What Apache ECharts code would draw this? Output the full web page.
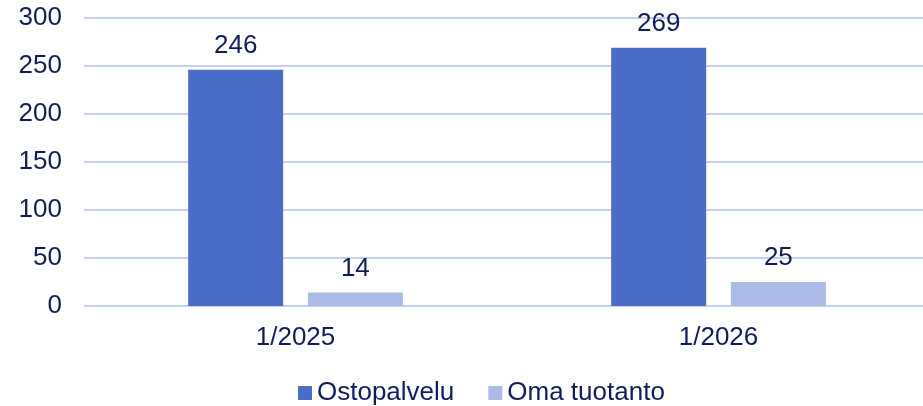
<!DOCTYPE html>
<html><head><meta charset="utf-8">
<script src="https://cdn.jsdelivr.net/npm/echarts@6/dist/echarts.min.js"></script>
<style>html,body{margin:0;padding:0;background:#fff;overflow:hidden;width:923px;height:406px}#c{width:930px;height:406px}</style>
</head><body><div id="c"></div>
<script>
const categories = ['1/2025', '1/2026'];
const seriesNames = ['Ostopalvelu', 'Oma tuotanto'];
const ostopalvelu = [246, 269];
const omaTuotanto = [14, 25];
const yTicks = [0, 50, 100, 150, 200, 250, 300];

const textColor = '#111C5C';
const font = 'Liberation Sans, Arial, sans-serif';
const fs = 26;
const chart = echarts.init(document.getElementById('c'), null, {renderer: 'canvas'});
const labelCfg = {show: true, position: 'top', distance: 11, color: textColor, fontSize: fs, fontFamily: font};
chart.setOption({
  animation: false,
  textStyle: {fontFamily: font},
  grid: {left: 84, top: 18, right: 0, height: 288, containLabel: false},
  legend: {
    left: 293, top: 375, itemWidth: 14, itemHeight: 14, itemGap: 34,
    icon: 'rect',
    textStyle: {color: textColor, fontSize: fs, fontFamily: font},
    data: seriesNames
  },
  xAxis: {
    type: 'category', data: categories,
    axisLine: {show: false}, axisTick: {show: false},
    axisLabel: {color: textColor, fontSize: fs, fontFamily: font, margin: 19}
  },
  yAxis: {
    type: 'value', min: yTicks[0], max: yTicks[yTicks.length - 1], interval: 50,
    axisLine: {show: false}, axisTick: {show: false},
    axisLabel: {color: textColor, fontSize: fs, fontFamily: font, margin: 22},
    splitLine: {lineStyle: {color: '#C5D0F2', width: 2}}
  },
  series: [
    {name: seriesNames[0], type: 'bar', data: ostopalvelu, barWidth: 95, barGap: '26%',
     itemStyle: {color: '#4A6DC8'}, label: labelCfg},
    {name: seriesNames[1], type: 'bar', data: omaTuotanto, barWidth: 95,
     itemStyle: {color: '#ABBAE6'}, label: labelCfg}
  ]
});
</script></body></html>
